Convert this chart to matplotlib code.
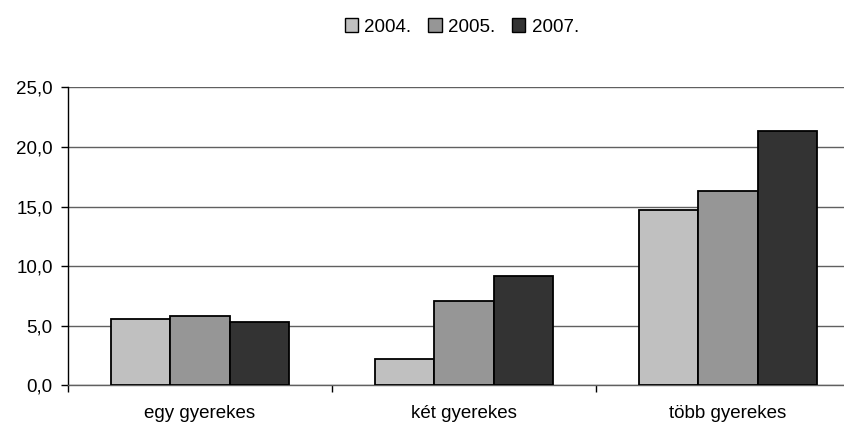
import matplotlib.pyplot as plt
import numpy as np

plt.rcParams['font.family'] = ['Liberation Sans', 'DejaVu Sans']

categories = ['egy gyerekes', 'két gyerekes', 'több gyerekes']
years = ['2004.', '2005.', '2007.']
v2004 = [5.6, 2.2, 14.7]
v2005 = [5.8, 7.1, 16.3]
v2007 = [5.3, 9.2, 21.3]
colors = ['#c0c0c0', '#969696', '#333333']

fig = plt.figure(figsize=(8.45, 4.28), dpi=100)
ax = fig.add_axes([68 / 845, 42.7 / 428, 792 / 845, 298 / 428])

x = np.arange(len(categories))
w = 0.224
for i, (vals, lab) in enumerate(zip([v2004, v2005, v2007], years)):
    ax.bar(x + (i - 1) * w, vals, width=w, color=colors[i], edgecolor='black',
           linewidth=1.3, label=lab, zorder=3)

ax.set_xlim(-0.5, 2.5)
ax.set_ylim(0, 25)
ax.set_yticks(np.arange(0, 26, 5))
ax.set_yticklabels([f'{t:.1f}'.replace('.', ',') for t in np.arange(0, 26, 5)])
ax.yaxis.grid(True, color='#606060', linewidth=1.0, zorder=0)

ax.set_xticks(x)
ax.set_xticklabels(categories)
ax.set_xticks([-0.5, 0.5, 1.5], minor=True)
ax.tick_params(axis='x', which='major', length=0, pad=14, labelsize=13.5)
ax.tick_params(axis='x', which='minor', length=5, width=1, color='black')
ax.tick_params(axis='y', length=5, width=1, labelsize=13.5, pad=6)

for s in ['top', 'right']:
    ax.spines[s].set_visible(False)
ax.spines['left'].set_color('black')
ax.spines['bottom'].set_color('#606060')
ax.spines['left'].set_linewidth(1.0)
ax.spines['bottom'].set_linewidth(1.0)

leg = fig.legend(loc='center', bbox_to_anchor=(462 / 845, 1 - 27 / 428), ncol=3,
                 frameon=False, fontsize=13.5, handlelength=0.7, handleheight=0.7,
                 handletextpad=0.35, columnspacing=0.9)
for h in leg.legend_handles:
    h.set_linewidth(1.0)

fig.savefig('out.png', dpi=100)
